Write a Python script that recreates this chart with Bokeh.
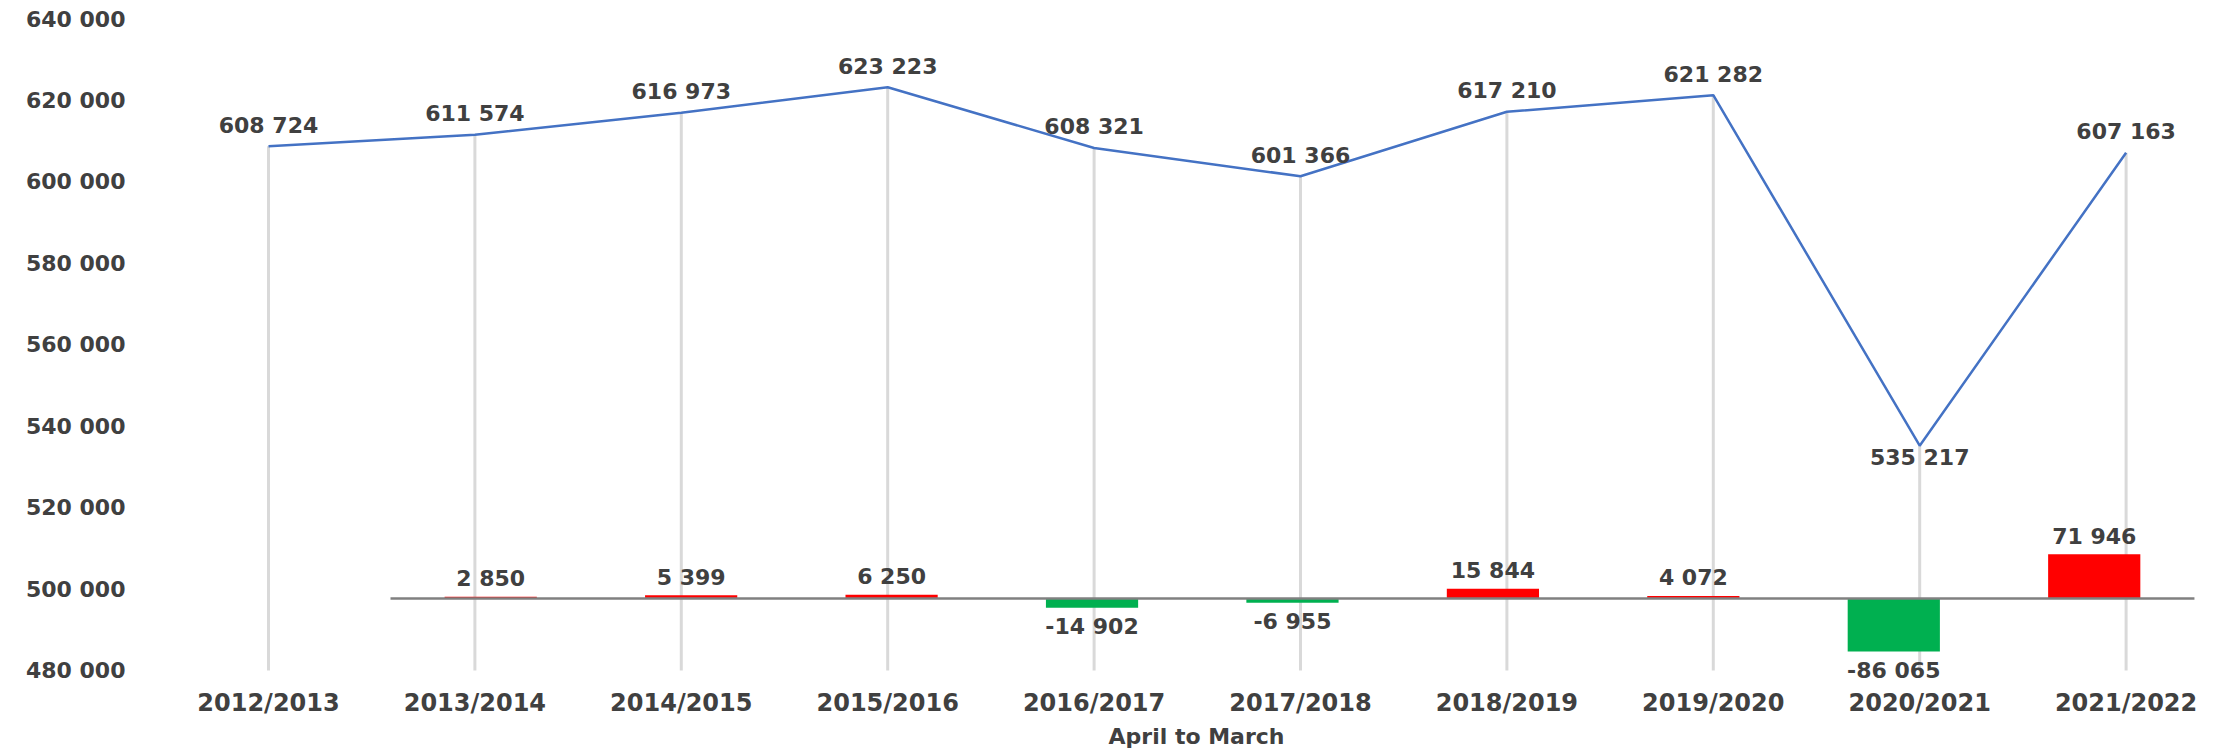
from bokeh.plotting import figure
from bokeh.models import Range1d, FixedTicker, ColumnDataSource
from bokeh.core.properties import value
from bokeh.embed import file_html
from bokeh.resources import INLINE

# ---- data ----
categories = ["2012/2013", "2013/2014", "2014/2015", "2015/2016", "2016/2017",
              "2017/2018", "2018/2019", "2019/2020", "2020/2021", "2021/2022"]
totals = [608724, 611574, 616973, 623223, 608321, 601366, 617210, 621282, 535217, 607163]
change_categories = categories[1:]
changes = [2850, 5399, 6250, -14902, -6955, 15844, 4072, -86065, 71946]
y_ticks = [480000, 500000, 520000, 540000, 560000, 580000, 600000, 620000, 640000]
x_title = "April to March"

def fmt(v):
    return f"{v:,}".replace(",", " ")

FONT = "DejaVu Sans"
TXT = "#404040"

p = figure(width=2227, height=752, output_backend="svg", toolbar_location=None,
           x_range=Range1d(-0.499, 9.4913), y_range=Range1d(477544, 640123),
           min_border_left=165, min_border_right=0, min_border_top=18, min_border_bottom=72)
p.outline_line_color = None
p.xgrid.visible = False
p.ygrid.visible = False
p.background_fill_color = "white"
p.border_fill_color = "white"
p.extra_y_ranges = {"chg": Range1d(-133333, 943089)}
p.extra_x_ranges = {"bx": Range1d(-1.1225, 9.1649)}

idx = list(range(len(categories)))

# drop lines
p.segment(x0=idx, y0=[y_ticks[0]] * len(idx), x1=idx, y1=totals,
          line_color="#D9D9D9", line_width=3)

# bars (secondary axes)
bar_x = [j + 0.5 for j in range(len(changes))]
bar_colors = ["#FF0000" if c > 0 else "#00B050" for c in changes]
bsrc = ColumnDataSource(dict(x=bar_x, top=changes, color=bar_colors,
                             lab=[fmt(c) for c in changes],
                             off=[-18 if c > 0 else 19 for c in changes]))
p.vbar(x="x", top="top", bottom=0, width=0.46, fill_color="color", line_color=None,
       source=bsrc, x_range_name="bx", y_range_name="chg")
p.segment(x0=[0], y0=[0], x1=[len(changes)], y1=[0], x_range_name="bx", y_range_name="chg",
          line_color="#808080", line_width=2.5)

# line
p.line(idx, totals, line_color="#4472C4", line_width=2.5)

# labels
lsrc = ColumnDataSource(dict(x=idx, y=totals, lab=[fmt(v) for v in totals],
                             off=[12 if v == min(totals) else -21 for v in totals]))
p.text(x="x", y="y", text="lab", y_offset="off", source=lsrc, text_align="center",
       text_baseline="middle", text_font=value(FONT), text_font_style="bold",
       text_font_size="22px", text_color=TXT)
p.text(x="x", y="top", text="lab", y_offset="off", source=bsrc, text_align="center",
       text_baseline="middle", text_font=value(FONT), text_font_style="bold",
       text_font_size="22px", text_color=TXT, x_range_name="bx", y_range_name="chg")

# axes
p.yaxis.ticker = FixedTicker(ticks=y_ticks)
p.yaxis.major_label_overrides = {t: fmt(t) for t in y_ticks}
p.yaxis.axis_line_color = None
p.yaxis.major_tick_line_color = None
p.yaxis.minor_tick_line_color = None
p.yaxis.major_label_standoff = 34
p.yaxis.major_label_text_font = FONT
p.yaxis.major_label_text_font_style = "bold"
p.yaxis.major_label_text_font_size = "22px"
p.yaxis.major_label_text_color = TXT

p.xaxis.ticker = FixedTicker(ticks=idx)
p.xaxis.major_label_overrides = {i: c for i, c in zip(idx, categories)}
p.xaxis.axis_line_color = None
p.xaxis.major_tick_line_color = None
p.xaxis.minor_tick_line_color = None
p.xaxis.major_label_standoff = 2
p.xaxis.major_label_text_font = FONT
p.xaxis.major_label_text_font_style = "bold"
p.xaxis.major_label_text_font_size = "24px"
p.xaxis.major_label_text_color = TXT
p.xaxis.axis_label = x_title
p.xaxis.axis_label_standoff = 4
p.xaxis.axis_label_text_font = FONT
p.xaxis.axis_label_text_font_style = "bold"
p.xaxis.axis_label_text_font_size = "22px"
p.xaxis.axis_label_text_color = TXT

open("out.html", "w").write(file_html(p, INLINE))
